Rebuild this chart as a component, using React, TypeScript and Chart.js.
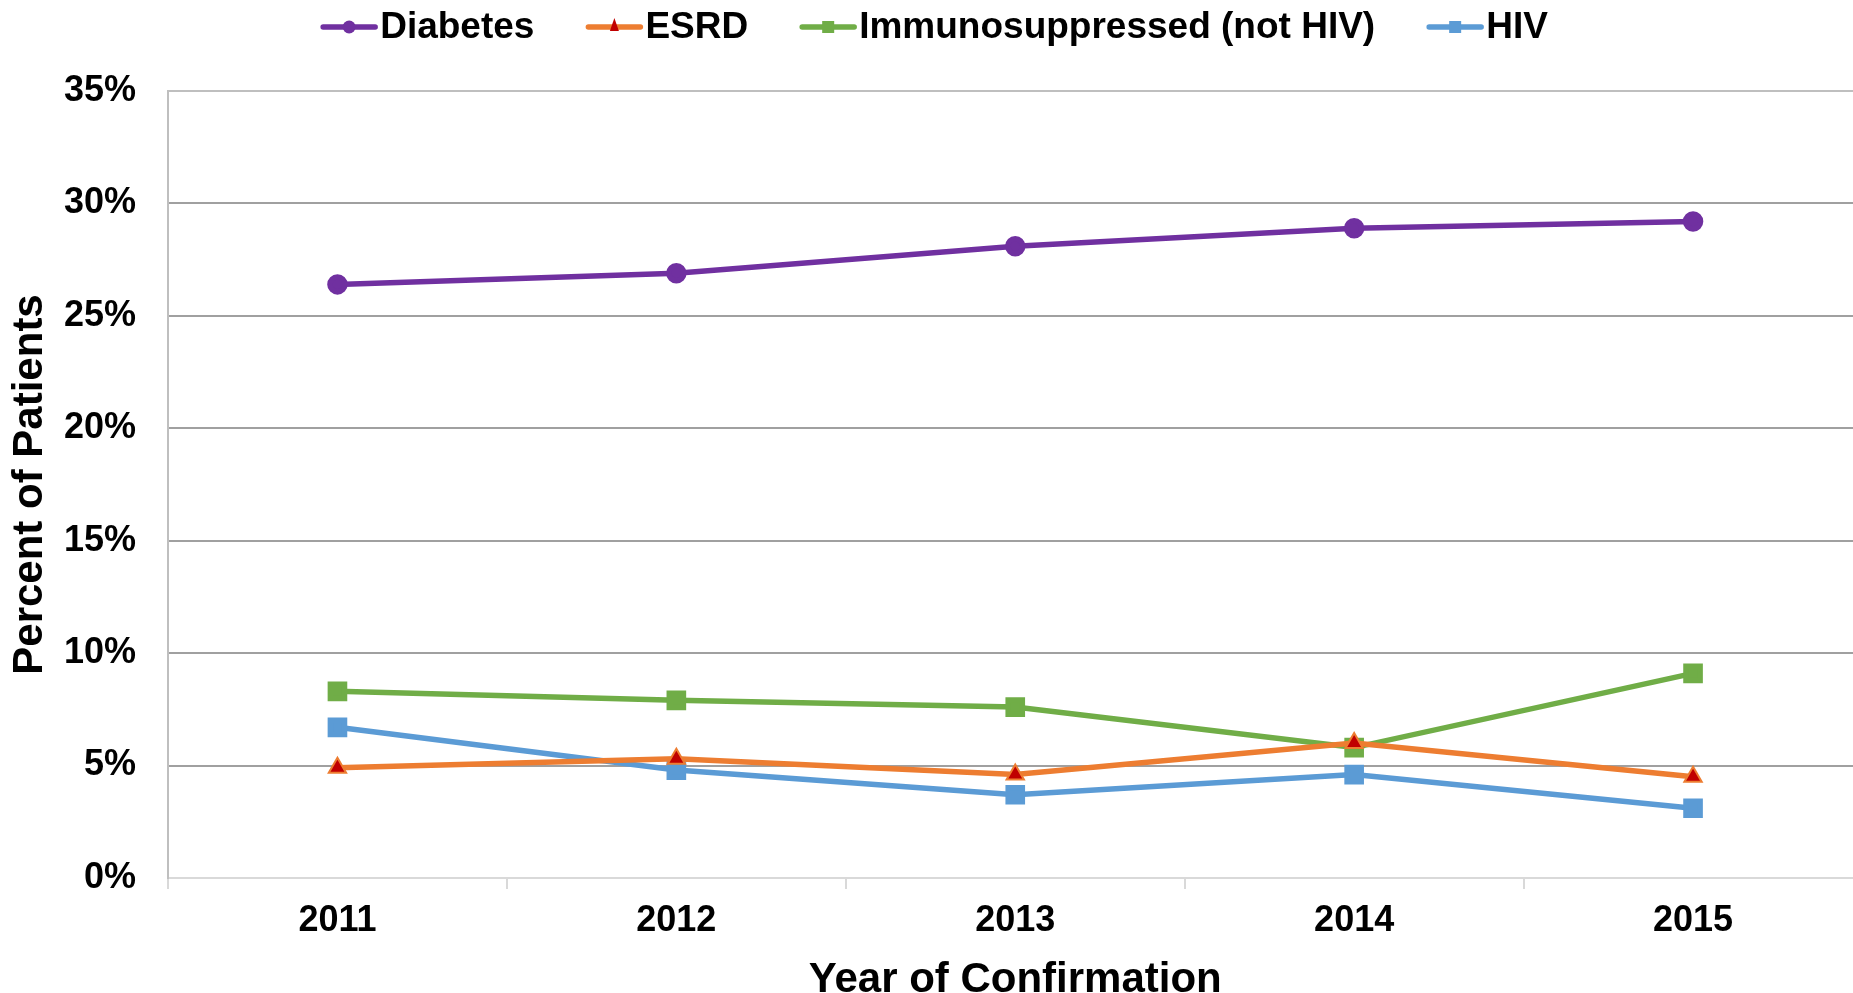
import React, { useEffect, useRef } from 'react';
import { Chart, registerables } from 'chart.js';

Chart.register(...registerables);

const years = ['2011', '2012', '2013', '2014', '2015'];
const diabetes = [26.4, 26.9, 28.1, 28.9, 29.2];
const esrd = [4.9, 5.3, 4.6, 6.0, 4.5];
const immuno = [8.3, 7.9, 7.6, 5.8, 9.1];
const hiv = [6.7, 4.8, 3.7, 4.6, 3.1];
const yMin = 0;
const yMax = 35;
const yStep = 5;
const yTitle = 'Percent of Patients';
const xTitle = 'Year of Confirmation';

const FONT = '"Liberation Sans", Arial, sans-serif';
const W = 1878;
const H = 1010;

const legendPlugin = {
  id: 'customLegend',
  afterDraw(chart: any) {
    const ctx = chart.ctx as CanvasRenderingContext2D;
    ctx.save();
    ctx.font = `bold 37px ${FONT}`;
    const lineLen = 56;
    const gapText = 3;
    const gapItem = 52;
    const dss = chart.data.datasets;
    const widths = dss.map((d: any) => ctx.measureText(d.label).width);
    let total = 0;
    widths.forEach((w: number) => (total += lineLen + gapText + w));
    total += gapItem * (dss.length - 1);
    let x = 1853 / 2 - total / 2 + 8;
    const y = 27;
    dss.forEach((d: any, i: number) => {
      ctx.strokeStyle = d.borderColor;
      ctx.lineWidth = 5.5;
      ctx.lineCap = 'round';
      ctx.beginPath();
      ctx.moveTo(x + 2, y);
      ctx.lineTo(x + lineLen - 2, y);
      ctx.stroke();
      const cx = x + lineLen / 2;
      ctx.fillStyle = d.pointBackgroundColor;
      if (d.pointStyle === 'circle') {
        ctx.beginPath();
        ctx.arc(cx, y, 6.5, 0, Math.PI * 2);
        ctx.fill();
      } else if (d.pointStyle === 'rect') {
        ctx.fillRect(cx - 6, y - 6, 12, 12);
      } else if (d.pointStyle === 'triangle') {
        ctx.beginPath();
        ctx.moveTo(cx, y - 9);
        ctx.lineTo(cx + 4.5, y + 4);
        ctx.lineTo(cx - 4.5, y + 4);
        ctx.closePath();
        ctx.fill();
      }
      ctx.fillStyle = '#000';
      ctx.textBaseline = 'middle';
      ctx.textAlign = 'left';
      ctx.fillText(d.label, x + lineLen + gapText, y + 1);
      x += lineLen + gapText + widths[i] + gapItem;
    });
    ctx.restore();
  },
};

export default function App() {
  const ref = useRef<HTMLCanvasElement>(null);
  useEffect(() => {
    if (!ref.current) return;
    const chart = new Chart(ref.current, {
      type: 'line',
      data: {
        labels: years,
        datasets: [
          {
            label: 'Diabetes',
            data: diabetes,
            borderColor: '#7030A0',
            backgroundColor: '#7030A0',
            pointBackgroundColor: '#7030A0',
            pointBorderColor: '#7030A0',
            pointStyle: 'circle',
            pointRadius: 7.5,
            borderWidth: 5.5,
            tension: 0,
          },
          {
            label: 'ESRD',
            data: esrd,
            borderColor: '#ED7D31',
            backgroundColor: '#C00000',
            pointBackgroundColor: '#C00000',
            pointBorderColor: '#ED7D31',
            pointBorderWidth: 2,
            pointStyle: 'triangle',
            pointRadius: 10,
            borderWidth: 5.5,
            tension: 0,
          },
          {
            label: 'Immunosuppressed (not HIV)',
            data: immuno,
            borderColor: '#70AD47',
            backgroundColor: '#70AD47',
            pointBackgroundColor: '#70AD47',
            pointBorderColor: '#70AD47',
            pointStyle: 'rect',
            pointRadius: 10,
            borderWidth: 5.5,
            tension: 0,
          },
          {
            label: 'HIV',
            data: hiv,
            borderColor: '#5B9BD5',
            backgroundColor: '#5B9BD5',
            pointBackgroundColor: '#5B9BD5',
            pointBorderColor: '#5B9BD5',
            pointStyle: 'rect',
            pointRadius: 10,
            borderWidth: 5.5,
            tension: 0,
          },
        ],
      },
      options: {
        animation: false,
        responsive: true,
        maintainAspectRatio: false,
        layout: { padding: { top: 91, left: 0, right: 0, bottom: 0 } },
        plugins: {
          legend: { display: false },
          tooltip: { enabled: false },
        },
        scales: {
          x: {
            offset: true,
            grid: {
              display: true,
              offset: true,
              drawOnChartArea: false,
              drawTicks: true,
              tickLength: 11,
              color: '#D9D9D9',
              lineWidth: 2,
            },
            border: { display: false },
            ticks: {
              color: '#000',
              padding: 10,
              font: { family: FONT, size: 36, weight: 'bold' },
            },
            title: {
              display: true,
              text: xTitle,
              color: '#000',
              padding: { top: 0, bottom: 4 },
              font: { family: FONT, size: 42, weight: 'bold' },
            },
            afterFit(scale: any) {
              scale.height = H - 878;
            },
          },
          y: {
            min: yMin,
            max: yMax,
            ticks: {
              stepSize: yStep,
              color: '#000',
              padding: 32,
              font: { family: FONT, size: 36, weight: 'bold' },
              callback: (v: any) => `${v}%`,
            },
            grid: {
              drawTicks: false,
              lineWidth: 2,
              color: (c: any) =>
                c.tick && c.tick.value === 0
                  ? '#D9D9D9'
                  : c.tick && c.tick.value === 35
                  ? '#BFBFBF'
                  : '#A0A0A0',
            },
            border: { color: '#BFBFBF', width: 2 },
            title: {
              display: true,
              text: yTitle,
              color: '#000',
              padding: { top: 5, bottom: 0 },
              font: { family: FONT, size: 42, weight: 'bold' },
            },
            afterFit(scale: any) {
              scale.width = 168;
            },
          },
        },
      },
      plugins: [legendPlugin],
    } as any);
    return () => chart.destroy();
  }, []);

  return (
    <div
      style={{
        position: 'fixed',
        left: 0,
        top: 0,
        width: 1853,
        height: 993,
        overflow: 'hidden',
        background: '#fff',
      }}
    >
      <div style={{ position: 'relative', width: W, height: H }}>
        <canvas ref={ref} />
      </div>
    </div>
  );
}
